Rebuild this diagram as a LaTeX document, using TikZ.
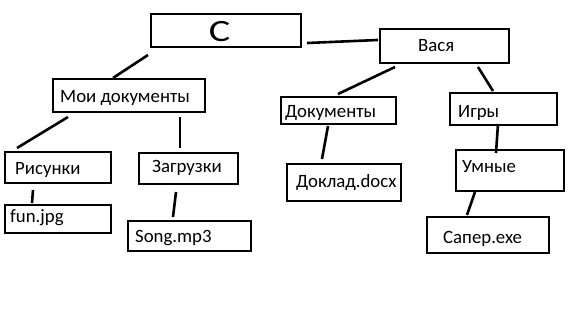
\documentclass[tikz,border=0pt]{standalone}
\usepackage{fontspec}
\setmainfont{Carlito}
\begin{document}
\begin{tikzpicture}[x=1pt,y=-1pt,
  box/.style={draw=black,line width=2.4pt,rectangle,inner sep=0pt,outer sep=0pt},
  txt/.style={font=\fontsize{18.8}{18.8}\selectfont,inner sep=0pt,anchor=base west},
  conn/.style={line width=2.6pt}]
\useasboundingbox[fill=white] (0,0) rectangle (571,320);
% boxes
\node[box,minimum width=150pt,minimum height=33pt] (c) at (226,30.5) {};
\node[box,minimum width=129pt,minimum height=34pt] (vasya) at (444.5,46) {};
\node[box,minimum width=152pt,minimum height=33pt] (moi) at (129,95.5) {};
\node[box,minimum width=115pt,minimum height=27pt] (doc) at (338.5,110.5) {};
\node[box,minimum width=107pt,minimum height=32pt] (igry) at (503.5,109) {};
\node[box,minimum width=106pt,minimum height=31pt] (ris) at (58,167.5) {};
\node[box,minimum width=99pt,minimum height=31pt] (zag) at (188.5,168.5) {};
\node[box,minimum width=106pt,minimum height=28pt] (fun) at (58,219) {};
\node[box,minimum width=123pt,minimum height=30pt] (song) at (189.5,236) {};
\node[box,minimum width=114pt,minimum height=37pt] (dokl) at (344,182.5) {};
\node[box,minimum width=108pt,minimum height=41pt] (umn) at (510,170.5) {};
\node[box,minimum width=122pt,minimum height=36pt] (saper) at (488,235) {};
% texts
\node[font=\fontsize{31}{31}\selectfont,inner sep=0pt,xscale=1.3] (c-t) at (219.5,32) {C};
\node[txt] (vasya-t) at (418,52) {Вася};
\node[txt] (moi-t) at (60,103) {Мои документы};
\node[txt] (doc-t) at (285,118) {Документы};
\node[txt] (igry-t) at (458,118) {Игры};
\node[txt] (ris-t) at (15,175) {Рисунки};
\node[txt] (zag-t) at (152,173) {Загрузки};
\node[txt] (fun-t) at (10,223) {fun.jpg};
\node[txt] (song-t) at (135,243) {Song.mp3};
\node[txt] (dokl-t) at (296,188) {Доклад.docx};
\node[txt] (umn-t) at (462,173) {Умные};
\node[txt] (saper-t) at (443,244) {Сапер.exe};
% connector ends
\coordinate (c-e1) at (307,43);   \coordinate (vasya-e1) at (378,40);
\coordinate (c-e2) at (148,55);   \coordinate (moi-e1) at (113,78);
\coordinate (moi-e2) at (68,117); \coordinate (ris-e1) at (17,148);
\coordinate (moi-e3) at (180,117);\coordinate (zag-e1) at (180,148);
\coordinate (ris-e2) at (33,190); \coordinate (fun-e1) at (32,203);
\coordinate (zag-e2) at (176,192);\coordinate (song-e1) at (173,217);
\coordinate (vasya-e2) at (395,67);\coordinate (doc-e1) at (338,94);
\coordinate (vasya-e3) at (478,67);\coordinate (igry-e1) at (493,91);
\coordinate (doc-e2) at (328,126);\coordinate (dokl-e1) at (322,159);
\coordinate (igry-e2) at (498,124);\coordinate (umn-e1) at (496,153);
\coordinate (umn-e2) at (475,192);\coordinate (saper-e1) at (467,215);
% connectors
\draw[conn] (c-e1) -- (vasya-e1);
\draw[conn] (c-e2) -- (moi-e1);
\draw[conn] (moi-e2) -- (ris-e1);
\draw[conn] (moi-e3) -- (zag-e1);
\draw[conn] (ris-e2) -- (fun-e1);
\draw[conn] (zag-e2) -- (song-e1);
\draw[conn] (vasya-e2) -- (doc-e1);
\draw[conn] (vasya-e3) -- (igry-e1);
\draw[conn] (doc-e2) -- (dokl-e1);
\draw[conn] (igry-e2) -- (umn-e1);
\draw[conn] (umn-e2) -- (saper-e1);
\end{tikzpicture}
\end{document}
